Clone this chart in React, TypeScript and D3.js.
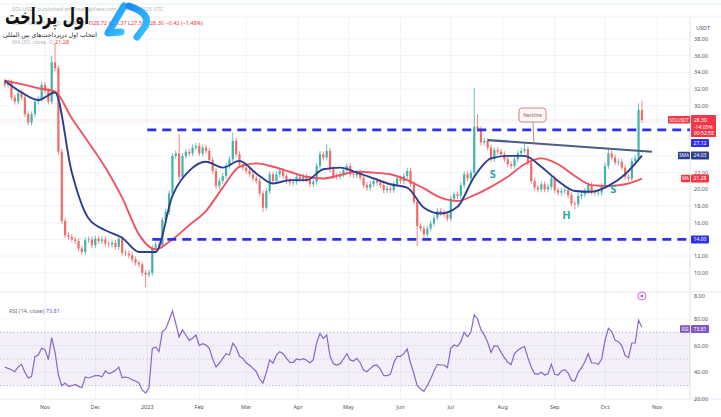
import React from "react";
import * as d3 from "d3";

// ---------- DATA ----------
const START = new Date(2022, 9, 8);
const STEP_DAYS = 2;
const FIRST_OPEN = 32.9;

const closes: number[] = [
  32.5, 32.8, 31.0, 30.5, 31.5, 31.0, 29.0, 28.0, 29.0, 30.5, 30.8, 32.5, 31.8, 30.5, 35.2,
  34.5, 24.5, 16.2, 14.5, 14.3,
  14.0, 13.8, 12.9, 12.5, 13.9, 14.0, 13.3, 14.1, 13.8, 14.0,
  13.5, 13.4, 13.6, 13.1, 14.1, 12.4, 12.3, 12.1, 11.6, 11.2,
  11.0, 10.0, 9.8, 10.0, 13.0, 13.4, 13.3, 16.3, 17.3, 19.5,
  24.0, 24.3, 21.5, 24.0, 24.5, 24.3, 25.0, 25.2, 24.3, 25.0,
  24.6, 23.5, 22.2, 20.4, 21.0, 21.6, 22.8, 23.6, 25.8, 24.2,
  23.0, 22.6, 22.2, 21.8, 21.3, 21.0, 19.5, 17.8, 19.8, 21.8,
  21.0, 21.8, 22.2, 21.6, 21.0, 20.8, 20.9, 21.5, 21.2, 21.5,
  21.2, 20.6, 20.9, 22.8, 24.2, 23.8, 24.6, 22.4, 21.6, 21.5,
  21.8, 22.3, 22.8, 21.8, 21.7, 22.0, 21.4, 20.5, 20.2, 20.6,
  21.0, 20.8, 20.5, 19.9, 20.1, 19.9, 20.6, 21.3, 21.0, 21.6,
  22.2, 20.6, 18.5, 15.6, 15.3, 14.6, 15.3, 15.9, 16.6, 17.4,
  17.2, 17.0, 16.5, 18.9, 19.4, 19.2, 20.5, 21.8, 21.3, 22.0,
  27.5, 27.2, 25.6, 25.8, 25.0, 23.6, 24.7, 24.5, 24.2, 23.6,
  23.0, 22.8, 23.6, 24.3, 24.6, 24.8, 23.2, 21.0, 20.2, 20.0,
  20.6, 20.0, 20.3, 21.3, 19.9, 19.6, 19.8, 19.9, 19.3, 18.3,
  18.2, 19.2, 19.4, 19.8, 20.5, 19.7, 19.6, 19.6, 20.4, 22.8,
  24.3, 23.8, 23.2, 23.3, 22.6, 21.5, 21.3, 23.4, 23.7, 29.5, 28.3,
];

const highIdx = [14, 15, 52, 68, 96, 140, 141, 155, 180, 189, 190];
const highVal = [36.0, 37.5, 26.6, 26.8, 25.4, 32.1, 29.0, 25.6, 24.9, 30.3, 30.6];
const lowIdx = [42, 77, 123, 125, 170];
const lowVal = [8.3, 17.3, 13.2, 14.0, 17.6];

const rsiValues: number[] = [
  44, 43, 42, 40.5, 44, 46, 40, 35.8, 37, 51.7, 53, 58, 57, 49.5, 66,
  55, 38, 30, 32, 29.5,
  30, 31, 29.5, 28.5, 36.5, 35.8, 36.7, 37.5, 37.5, 36.7,
  41, 39, 40, 41.5, 44, 36, 36.5, 35.8, 34.5, 33.5,
  32, 26.8, 24.5, 28.5, 58, 59, 55.6, 70.5, 72.5, 79,
  86, 76.6, 66.6, 72, 68, 64, 65.5, 68, 60, 61.5,
  60.5, 58, 50, 44, 46.8, 50.5, 54, 53, 61.8, 58.5,
  52, 50.5, 47, 45.5, 43, 40.5, 35, 32, 40, 49.3,
  46.8, 53, 55.5, 54, 50.5, 47.5, 47.5, 50, 49.3, 50.3,
  49, 47, 49.5, 62, 69, 65.5, 68, 52, 46.5, 45.5,
  46.5, 50, 54, 49.3, 48.5, 50.5, 47, 41.8, 40.5, 43,
  45, 45.5, 42.5, 37.5, 37.5, 38.5, 47, 52, 52, 54,
  57.5, 47, 39, 30, 27.5, 25.8, 30, 35, 41, 46,
  45.5, 45.5, 43.5, 58, 60.5, 59.5, 63, 70, 66.6, 70,
  83, 80, 72, 68, 62.5, 55, 60, 59.5, 55, 51,
  47.5, 45.8, 54, 56.5, 58.3, 59.3, 51, 44, 39, 38.5,
  40, 38, 39, 46, 38.5, 38, 41, 42, 39.5, 34,
  33.5, 40, 43.5, 48, 54, 47, 47, 46, 50, 64,
  73, 70.5, 64, 63, 60, 52.5, 51, 62, 62, 79, 73.81,
];

const MA_STEP = 5; // candles between MA samples
const smaValues = [
  33.0, 31.6, 30.7, 31.6, 22.0, 16.5, 15.1, 14.2, 12.5, 12.5,
  19.2, 22.2, 23.3, 22.6, 23.4, 21.9, 20.7, 21.1, 21.1, 22.4,
  22.6, 22.0, 21.3, 20.6, 20.2, 17.8, 17.1, 17.9, 21.5, 23.7,
  24.0, 24.0, 22.7, 21.0, 19.8, 19.7, 20.4, 21.8, 24.03,
];
const maValues = [
  33.0, 32.6, 32.1, 31.7, 28.5, 25.6, 22.6, 19.0, 14.6, 12.8,
  14.0, 15.7, 17.4, 20.2, 22.7, 23.1, 22.7, 22.1, 21.5, 21.3,
  21.7, 22.1, 22.0, 21.8, 21.1, 20.1, 19.0, 18.6, 19.3, 20.3,
  21.5, 23.0, 23.7, 23.0, 21.6, 20.5, 20.4, 20.6, 21.28,
];

const monthDates = [
  "2022-11-01", "2022-12-01", "2023-01-01", "2023-02-01", "2023-03-01", "2023-04-01",
  "2023-05-01", "2023-06-01", "2023-07-01", "2023-08-01", "2023-09-01", "2023-10-01", "2023-11-01",
];
const monthLabels = ["Nov", "Dec", "2023", "Feb", "Mar", "Apr", "May", "Jun", "Jul", "Aug", "Sep", "Oct", "Nov"];
const gridPrices = [10, 12, 14, 16, 18, 20, 22, 24, 26, 28, 30, 32, 34, 36, 38];
const priceTickLabels = [10, 12, 16, 18, 20, 22, 30, 32, 34, 36, 38];
const rsiTicks = [80, 60, 40, 20];

const LAST_PRICE = 28.3;
const RESIST = 27.12;
const SUPPORT = 14.0;
const SMA_LAST = 24.03;
const MA_LAST = 21.28;
const RSI_LAST = 73.81;
const necklineStart: [string, number] = ["2023-07-23", 25.9];
const necklineEnd: [string, number] = ["2023-10-29", 24.5];
const patternLetters = [
  { t: "S", d: "2023-07-26", p: 21.3 },
  { t: "H", d: "2023-09-08", p: 16.4 },
  { t: "S", d: "2023-10-06", p: 19.5 },
];

// ---------- COMPONENT ----------
const UP = "#26a69a";
const DOWN = "#ef5350";
const BLUE_DASH = "#2f2ff0";
const SMA_C = "#2c3e8f";
const MA_C = "#f0525f";
const RSI_C = "#7e57c2";
const FONT = "'Noto Sans', 'DejaVu Sans', sans-serif";

function pd(s: string) {
  const [y, m, d] = s.split("-").map(Number);
  return new Date(y, m - 1, d);
}

export default function App() {
  const W = 721, H = 417;
  const axisX = 690;
  const x = d3.scaleTime().domain([new Date(2022, 10, 1), new Date(2023, 10, 1)]).range([45, 657]);
  const y = d3.scaleLinear().domain([10, 38]).range([272.8, 39]);
  const yr = d3.scaleLinear().domain([30, 70]).range([385.7, 332.3]);
  const dateAt = (i: number) => d3.timeDay.offset(START, i * STEP_DAYS);

  const candles = closes.map((c, i) => {
    const o = i === 0 ? FIRST_OPEN : closes[i - 1];
    let hi = Math.max(o, c) + 0.35;
    let lo = Math.min(o, c) - 0.35;
    const hk = highIdx.indexOf(i);
    if (hk >= 0) hi = highVal[hk];
    const lk = lowIdx.indexOf(i);
    if (lk >= 0) lo = lowVal[lk];
    return { i, o, c, hi, lo, xc: x(dateAt(i)) };
  });

  const maLine = d3
    .line<number>()
    .x((_, k) => x(dateAt(k * MA_STEP)))
    .y((v) => y(v))
    .curve(d3.curveMonotoneX);
  const rsiLine = d3
    .line<number>()
    .x((_, k) => x(dateAt(k)))
    .y((v) => yr(v));

  const lastX = x(dateAt(closes.length - 1));
  const nx1 = x(pd(necklineStart[0])), ny1 = y(necklineStart[1]);
  const nx2 = x(pd(necklineEnd[0])), ny2 = y(necklineEnd[1]);
  const labelX = 532;
  const t = (labelX + 2 - nx1) / (nx2 - nx1);
  const neckAtLabel = ny1 + t * (ny2 - ny1);

  const fs = 5.5;
  const box = (yc: number, text: string, fill: string, tag?: string, tagW = 11) => (
    <g key={text + yc}>
      {tag && (
        <g>
          <rect x={axisX - tagW} y={yc - 3.8} width={tagW} height={7.6} fill={fill} rx={0.8} />
          <text x={axisX - tagW / 2} y={yc + 1.7} fontSize={4.6} fill="#fff" textAnchor="middle" fontFamily={FONT}>
            {tag}
          </text>
        </g>
      )}
      <rect x={axisX + 1} y={yc - 4} width={18} height={8} fill={fill} rx={0.8} />
      <text x={axisX + 10} y={yc + 1.9} fontSize={5} fill="#fff" textAnchor="middle" fontFamily={FONT}>
        {text}
      </text>
    </g>
  );

  return (
    <svg
      width={W}
      height={H}
      style={{ position: "fixed", left: 0, top: 0, background: "#fff" }}
      fontFamily={FONT}
    >
      <rect width={W} height={H} fill="#fff" />
      {/* frame lines */}
      <line x1={0} x2={W} y1={4} y2={4} stroke="#e3f2f1" />
      <line x1={0} x2={W} y1={17} y2={17} stroke="#eef0f4" />
      {/* grid */}
      {monthDates.map((d) => (
        <line key={d} x1={x(pd(d))} x2={x(pd(d))} y1={17} y2={399} stroke="#f0f3fa" />
      ))}
      {gridPrices.map((p) => (
        <line key={p} x1={0} x2={axisX} y1={y(p)} y2={y(p)} stroke="#f0f3fa" />
      ))}
      {[80, 60, 40].map((r) => (
        <line key={r} x1={0} x2={axisX} y1={yr(r)} y2={yr(r)} stroke="#f3f4f8" />
      ))}
      <line x1={axisX} x2={axisX} y1={17} y2={399} stroke="#e0e3eb" />
      <line x1={0} x2={W} y1={292} y2={292} stroke="#e6e8ee" />
      <line x1={0} x2={W} y1={399} y2={399} stroke="#e6e8ee" />

      {/* last price line */}
      <line x1={0} x2={axisX} y1={y(LAST_PRICE)} y2={y(LAST_PRICE)} stroke="#f23645" strokeOpacity={0.35} strokeWidth={0.8} strokeDasharray="1 1" />

      {/* candles */}
      {candles.map((k) => {
        const col = k.c >= k.o ? UP : DOWN;
        const top = y(Math.max(k.o, k.c));
        const bot = y(Math.min(k.o, k.c));
        return (
          <g key={k.i} opacity={0.85}>
            <line x1={k.xc} x2={k.xc} y1={y(k.hi)} y2={y(k.lo)} stroke={col} strokeWidth={0.8} />
            <rect x={k.xc - 1.1} y={top} width={2.2} height={Math.max(0.8, bot - top)} fill={col} />
          </g>
        );
      })}

      {/* moving averages */}
      <path d={maLine(maValues) || ""} fill="none" stroke={MA_C} strokeWidth={1.9} />
      <path d={maLine(smaValues) || ""} fill="none" stroke={SMA_C} strokeWidth={1.9} />

      {/* horizontal levels */}
      <line x1={x(pd("2023-01-01"))} x2={axisX} y1={y(RESIST)} y2={y(RESIST)} stroke={BLUE_DASH} strokeWidth={2.6} strokeDasharray="9 6" />
      <line x1={x(pd("2023-01-04"))} x2={axisX} y1={y(SUPPORT)} y2={y(SUPPORT)} stroke={BLUE_DASH} strokeWidth={2.6} strokeDasharray="9 6" />

      {/* neckline */}
      <line x1={nx1} y1={ny1} x2={nx2} y2={ny2} stroke="#4a5c88" strokeWidth={2.2} />
      <line x1={labelX + 1} y1={122} x2={labelX + 2} y2={neckAtLabel} stroke="#b86a6a" strokeWidth={0.8} />
      <rect x={labelX - 13} y={108} width={27} height={14} rx={3} fill="#fff8f8" stroke="#c97c7c" strokeWidth={0.9} />
      <text x={labelX + 0.5} y={117} fontSize={4.6} fill="#8a5a5a" textAnchor="middle">Neckline</text>

      {patternLetters.map((l, k) => (
        <text key={k} x={x(pd(l.d))} y={y(l.p)} fontSize={11} fontWeight="bold" fill={UP} textAnchor="middle">
          {l.t}
        </text>
      ))}

      {/* RSI pane */}
      <rect x={0} y={yr(70)} width={axisX} height={yr(30) - yr(70)} fill={RSI_C} fillOpacity={0.09} />
      {[70, 50, 30].map((r) => (
        <line key={r} x1={0} x2={axisX} y1={yr(r)} y2={yr(r)} stroke="#a8a8b8" strokeWidth={1} strokeDasharray="1.2 2.2" strokeOpacity={r === 50 ? 0.6 : 0.9} />
      ))}
      <path d={rsiLine(rsiValues) || ""} fill="none" stroke={RSI_C} strokeWidth={1.2} strokeOpacity={0.9} />
      <circle cx={lastX} cy={296} r={4} fill="#fff" stroke="#d65ce0" strokeWidth={1} />
      <circle cx={lastX} cy={296} r={1.2} fill="#9c4fd8" />
      <text x={9} y={313} fontSize={fs} fill="#6a6d78">
        RSI (14, close) <tspan fill={RSI_C}>{RSI_LAST}</tspan>
      </text>

      {/* price axis */}
      <text x={696} y={30} fontSize={fs} fill="#50535e">USDT</text>
      {priceTickLabels.map((p) => (
        <text key={p} x={694} y={y(p) + 2} fontSize={fs} fill="#50535e">
          {p.toFixed(2)}
        </text>
      ))}
      <text x={694} y={298} fontSize={fs} fill="#50535e">8.00</text>
      {rsiTicks.map((r) => (
        <text key={r} x={694} y={332.3 + (70 - r) * 1.335 + 2} fontSize={fs} fill="#50535e">
          {r.toFixed(2)}
        </text>
      ))}

      {/* value labels */}
      <rect x={axisX + 1} y={115} width={25} height={22} fill="#f23645" rx={0.8} />
      <rect x={668} y={116} width={22} height={7.6} fill="#f23645" rx={0.8} />
      <text x={679} y={121.5} fontSize={4.4} fill="#fff" textAnchor="middle">SOLUSDT</text>
      <text x={694} y={121.5} fontSize={5} fill="#fff">{LAST_PRICE.toFixed(2)}</text>
      <text x={694} y={128.5} fontSize={5} fill="#fff">-14.05%</text>
      <text x={694} y={135} fontSize={5} fill="#fff">00:52:58</text>
      {box(143, RESIST.toFixed(2), BLUE_DASH)}
      {box(155.5, SMA_LAST.toFixed(2), SMA_C, "SMA", 12)}
      {box(178.5, MA_LAST.toFixed(2), "#f23645", "MA", 9)}
      {box(y(SUPPORT), SUPPORT.toFixed(2), BLUE_DASH)}
      {box(329, RSI_LAST.toFixed(2), RSI_C, "RSI", 10)}

      {/* time axis */}
      {monthDates.map((d, k) => (
        <text key={d} x={x(pd(d))} y={409} fontSize={fs} fill="#50535e" textAnchor="middle">
          {monthLabels[k]}
        </text>
      ))}

      {/* header */}
      <text x={12} y={11} fontSize={fs} fill="#b2b5be">
        SOLUSDT published on TradingView.com, Oct 23, 2023 UTC
      </text>
      <text x={12} y={25} fontSize={fs} fill="#b2b5be">
        SOL / TetherUS, 1D, BINANCE <tspan fill="#f23645">O28.72 H30.37 L27.50 C28.30 −0.42 (−1.48%)</tspan>
      </text>
      <text x={12} y={44} fontSize={fs} fill="#b2b5be">
        MA (50, close, 0) <tspan fill="#f23645">{MA_LAST}</tspan>
      </text>

      {/* watermark logo */}
      <defs>
        <linearGradient id="lg" x1="0" y1="0" x2="1" y2="1">
          <stop offset="0" stopColor="#1e88f5" />
          <stop offset="1" stopColor="#35c6ff" />
        </linearGradient>
      </defs>
      <g transform="translate(47,23.5) scale(1,1.5)">
        <text x={0} y={0} fontSize={14.5} fontWeight="bold" fill="#111" textAnchor="middle" fontFamily="'DejaVu Sans', sans-serif" direction="rtl">
          اول پرداخت
        </text>
      </g>
      <text x={50} y={37} fontSize={6.2} fill="#222" textAnchor="middle" fontFamily="'DejaVu Sans', sans-serif" direction="rtl">
        انتخاب اول درپرداخت‌های بین المللی
      </text>
      <path d="M 124 6 L 108 33 L 121 32" fill="none" stroke="url(#lg)" strokeWidth={7} strokeLinecap="round" strokeLinejoin="round" />
      <path d="M 129 6 Q 150 13 146 25 L 137 37" fill="none" stroke="url(#lg)" strokeWidth={7} strokeLinecap="round" strokeLinejoin="round" />
    </svg>
  );
}
